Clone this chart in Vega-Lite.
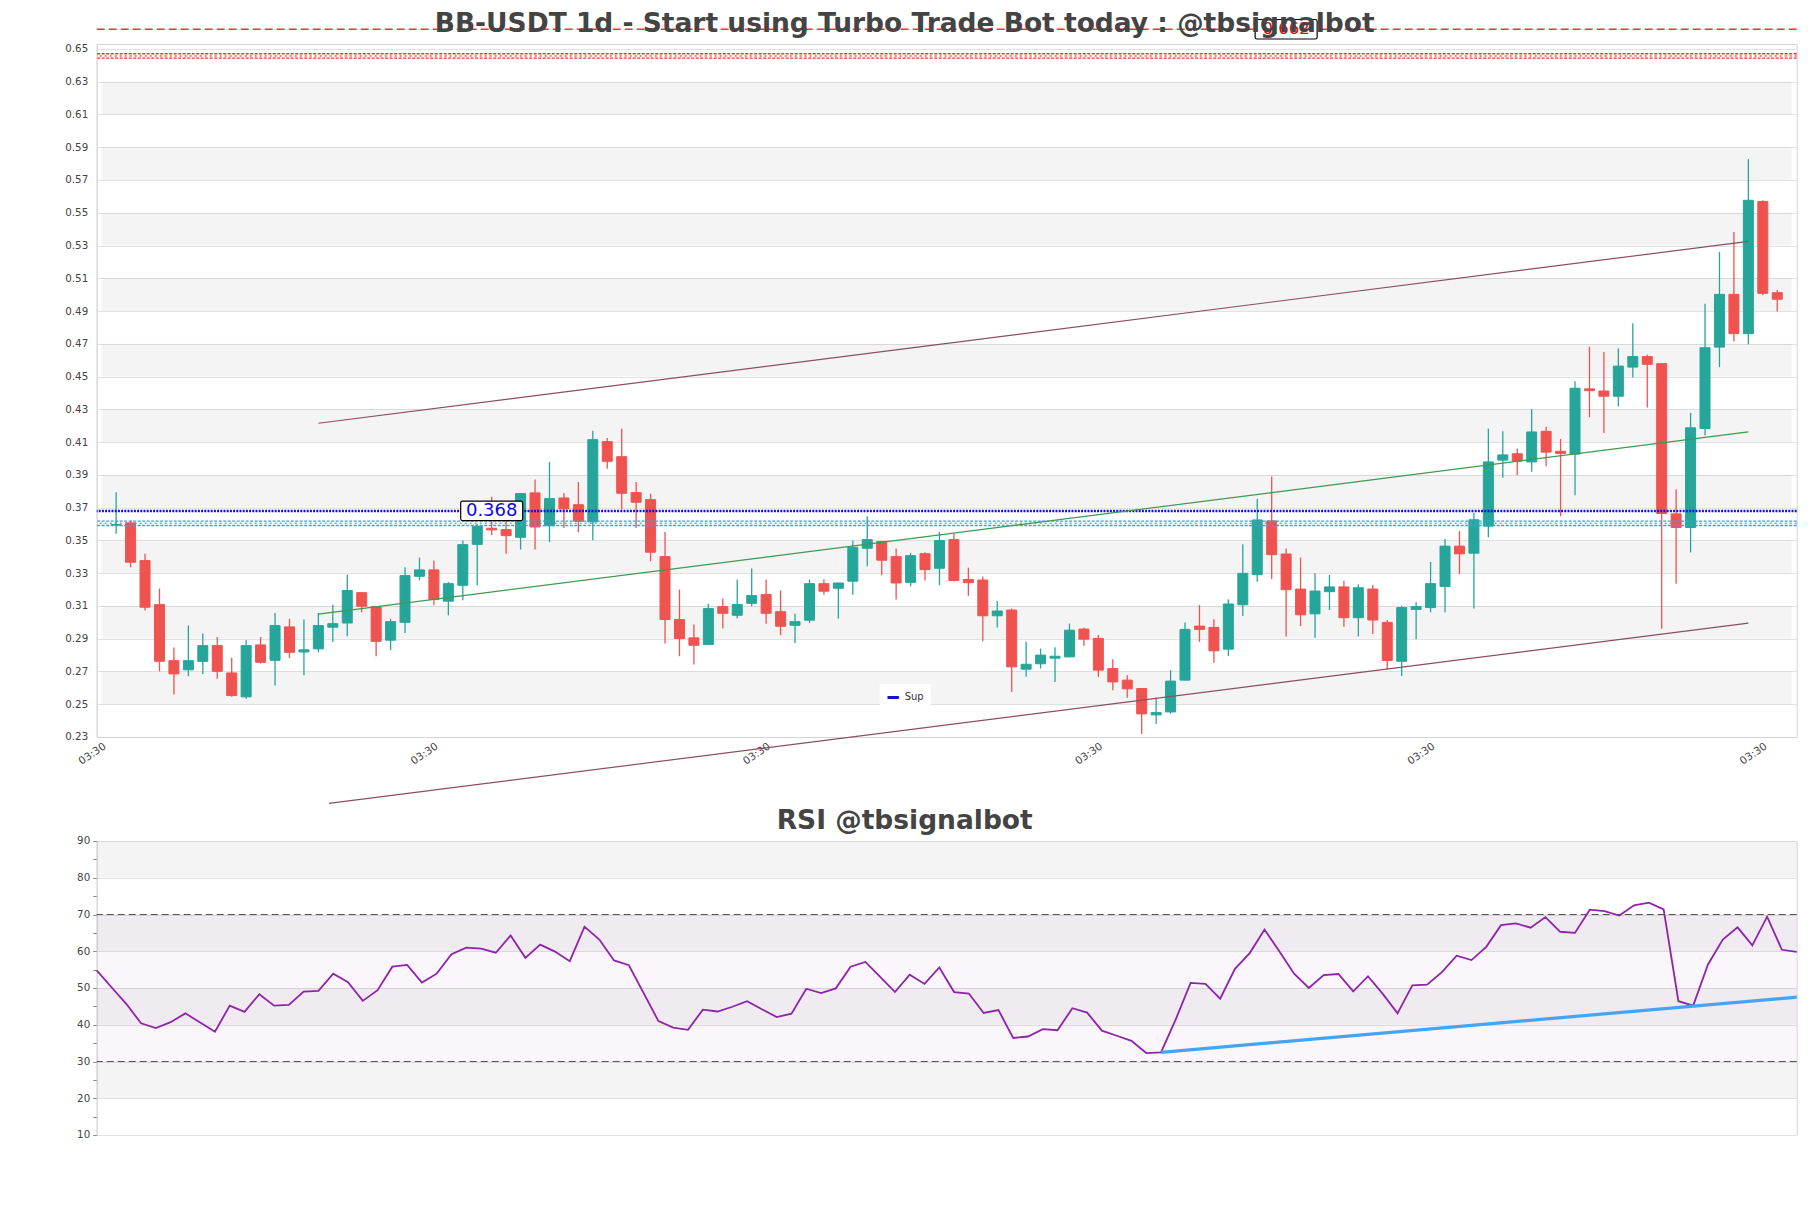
{
  "$schema": "https://vega.github.io/schema/vega-lite/v6.json",
  "background": "white",
  "padding": {"left": 63.7, "top": 10, "right": 14, "bottom": 20},
  "config": {
    "font": "DejaVu Sans",
    "view": {"stroke": "#d6d6d6", "strokeWidth": 1},
    "axis": {"labelFont": "DejaVu Sans", "labelColor": "#444444", "labelFontSize": 10.3, "domainColor": "#d6d6d6", "gridColor": "#e2e2e2", "ticks": false, "title": null, "labelPadding": 9, "labelOverlap": false, "tickCount": 200},
    "title": {"font": "DejaVu Sans", "fontWeight": "bold", "color": "#444444", "fontSize": 26.5, "anchor": "middle"},
    "legend": {"labelFont": "DejaVu Sans"}
  },
  "spacing": 0,
  "resolve": {"legend": {"color": "independent"}},
  "datasets": {
    "candles": [
      {"i":0,"o":0.3593,"h":0.3794,"l":0.3541,"c":0.3597},
      {"i":1,"o":0.3607,"h":0.3621,"l":0.3336,"c":0.3367},
      {"i":2,"o":0.3377,"h":0.3419,"l":0.3072,"c":0.3092},
      {"i":3,"o":0.3108,"h":0.3206,"l":0.2701,"c":0.2762},
      {"i":4,"o":0.2766,"h":0.2846,"l":0.2559,"c":0.2685},
      {"i":5,"o":0.2710,"h":0.2980,"l":0.2671,"c":0.2766},
      {"i":6,"o":0.2762,"h":0.2931,"l":0.2685,"c":0.2858},
      {"i":7,"o":0.2858,"h":0.2911,"l":0.2655,"c":0.2701},
      {"i":8,"o":0.2691,"h":0.2783,"l":0.2545,"c":0.2553},
      {"i":9,"o":0.2545,"h":0.2891,"l":0.2533,"c":0.2858},
      {"i":10,"o":0.2862,"h":0.2911,"l":0.2748,"c":0.2756},
      {"i":11,"o":0.2768,"h":0.3057,"l":0.2614,"c":0.2980},
      {"i":12,"o":0.2972,"h":0.3021,"l":0.2783,"c":0.2817},
      {"i":13,"o":0.2819,"h":0.3017,"l":0.2677,"c":0.2832},
      {"i":14,"o":0.2838,"h":0.3057,"l":0.2817,"c":0.2980},
      {"i":15,"o":0.2970,"h":0.3108,"l":0.2880,"c":0.2992},
      {"i":16,"o":0.2996,"h":0.3291,"l":0.2915,"c":0.3194},
      {"i":17,"o":0.3181,"h":0.3185,"l":0.3061,"c":0.3098},
      {"i":18,"o":0.3096,"h":0.3098,"l":0.2793,"c":0.2884},
      {"i":19,"o":0.2891,"h":0.3021,"l":0.2830,"c":0.3004},
      {"i":20,"o":0.3000,"h":0.3336,"l":0.2935,"c":0.3285},
      {"i":21,"o":0.3281,"h":0.3395,"l":0.3257,"c":0.3320},
      {"i":22,"o":0.3320,"h":0.3377,"l":0.3104,"c":0.3139},
      {"i":23,"o":0.3129,"h":0.3246,"l":0.3043,"c":0.3236},
      {"i":24,"o":0.3226,"h":0.3499,"l":0.3135,"c":0.3474},
      {"i":25,"o":0.3476,"h":0.3602,"l":0.3226,"c":0.3586},
      {"i":26,"o":0.3574,"h":0.3767,"l":0.3533,"c":0.3564},
      {"i":27,"o":0.3566,"h":0.3637,"l":0.3419,"c":0.3529},
      {"i":28,"o":0.3519,"h":0.3790,"l":0.3444,"c":0.3786},
      {"i":29,"o":0.3790,"h":0.3871,"l":0.3444,"c":0.3582},
      {"i":30,"o":0.3590,"h":0.3979,"l":0.3489,"c":0.3755},
      {"i":31,"o":0.3759,"h":0.3790,"l":0.3576,"c":0.3692},
      {"i":32,"o":0.3718,"h":0.3857,"l":0.3550,"c":0.3617},
      {"i":33,"o":0.3613,"h":0.4170,"l":0.3501,"c":0.4115},
      {"i":34,"o":0.4103,"h":0.4125,"l":0.3938,"c":0.3983},
      {"i":35,"o":0.4011,"h":0.4182,"l":0.3688,"c":0.3788},
      {"i":36,"o":0.3792,"h":0.3857,"l":0.3576,"c":0.3733},
      {"i":37,"o":0.3749,"h":0.3786,"l":0.3373,"c":0.3428},
      {"i":38,"o":0.3401,"h":0.3552,"l":0.2870,"c":0.3017},
      {"i":39,"o":0.3017,"h":0.3200,"l":0.2793,"c":0.2901},
      {"i":40,"o":0.2905,"h":0.2986,"l":0.2742,"c":0.2860},
      {"i":41,"o":0.2864,"h":0.3114,"l":0.2862,"c":0.3084},
      {"i":42,"o":0.3096,"h":0.3145,"l":0.2962,"c":0.3055},
      {"i":43,"o":0.3043,"h":0.3261,"l":0.3023,"c":0.3108},
      {"i":44,"o":0.3116,"h":0.3328,"l":0.3098,"c":0.3163},
      {"i":45,"o":0.3169,"h":0.3261,"l":0.2992,"c":0.3055},
      {"i":46,"o":0.3065,"h":0.3194,"l":0.2921,"c":0.2976},
      {"i":47,"o":0.2982,"h":0.3053,"l":0.2874,"c":0.3004},
      {"i":48,"o":0.3013,"h":0.3261,"l":0.2996,"c":0.3236},
      {"i":49,"o":0.3236,"h":0.3261,"l":0.3169,"c":0.3190},
      {"i":50,"o":0.3208,"h":0.3242,"l":0.3023,"c":0.3240},
      {"i":51,"o":0.3251,"h":0.3499,"l":0.3169,"c":0.3458},
      {"i":52,"o":0.3452,"h":0.3647,"l":0.3342,"c":0.3505},
      {"i":53,"o":0.3493,"h":0.3495,"l":0.3287,"c":0.3379},
      {"i":54,"o":0.3401,"h":0.3450,"l":0.3139,"c":0.3240},
      {"i":55,"o":0.3244,"h":0.3423,"l":0.3220,"c":0.3407},
      {"i":56,"o":0.3419,"h":0.3428,"l":0.3255,"c":0.3322},
      {"i":57,"o":0.3330,"h":0.3552,"l":0.3226,"c":0.3499},
      {"i":58,"o":0.3505,"h":0.3540,"l":0.3251,"c":0.3255},
      {"i":59,"o":0.3262,"h":0.3334,"l":0.3162,"c":0.3242},
      {"i":60,"o":0.3258,"h":0.3279,"l":0.2885,"c":0.3040},
      {"i":61,"o":0.3040,"h":0.3130,"l":0.2968,"c":0.3069},
      {"i":62,"o":0.3075,"h":0.3085,"l":0.2575,"c":0.2728},
      {"i":63,"o":0.2714,"h":0.2881,"l":0.2667,"c":0.2744},
      {"i":64,"o":0.2747,"h":0.2840,"l":0.2718,"c":0.2800},
      {"i":65,"o":0.2781,"h":0.2848,"l":0.2636,"c":0.2793},
      {"i":66,"o":0.2789,"h":0.2993,"l":0.2787,"c":0.2952},
      {"i":67,"o":0.2959,"h":0.2967,"l":0.2857,"c":0.2897},
      {"i":68,"o":0.2902,"h":0.2922,"l":0.2667,"c":0.2708},
      {"i":69,"o":0.2718,"h":0.2775,"l":0.2585,"c":0.2636},
      {"i":70,"o":0.2647,"h":0.2677,"l":0.2539,"c":0.2594},
      {"i":71,"o":0.2596,"h":0.2598,"l":0.2318,"c":0.2441},
      {"i":72,"o":0.2435,"h":0.2541,"l":0.2380,"c":0.2449},
      {"i":73,"o":0.2453,"h":0.2708,"l":0.2443,"c":0.2641},
      {"i":74,"o":0.2647,"h":0.2999,"l":0.2645,"c":0.2957},
      {"i":75,"o":0.2977,"h":0.3105,"l":0.2881,"c":0.2957},
      {"i":76,"o":0.2969,"h":0.3018,"l":0.2753,"c":0.2826},
      {"i":77,"o":0.2836,"h":0.3140,"l":0.2795,"c":0.3112},
      {"i":78,"o":0.3107,"h":0.3476,"l":0.3038,"c":0.3299},
      {"i":79,"o":0.3291,"h":0.3752,"l":0.3248,"c":0.3625},
      {"i":80,"o":0.3619,"h":0.3890,"l":0.3264,"c":0.3413},
      {"i":81,"o":0.3417,"h":0.3450,"l":0.2914,"c":0.3199},
      {"i":82,"o":0.3203,"h":0.3395,"l":0.2977,"c":0.3046},
      {"i":83,"o":0.3052,"h":0.3299,"l":0.2906,"c":0.3191},
      {"i":84,"o":0.3187,"h":0.3289,"l":0.3075,"c":0.3216},
      {"i":85,"o":0.3216,"h":0.3252,"l":0.2973,"c":0.3028},
      {"i":86,"o":0.3028,"h":0.3232,"l":0.2914,"c":0.3211},
      {"i":87,"o":0.3203,"h":0.3228,"l":0.2928,"c":0.3014},
      {"i":88,"o":0.3000,"h":0.3014,"l":0.2712,"c":0.2767},
      {"i":89,"o":0.2762,"h":0.3101,"l":0.2672,"c":0.3090},
      {"i":90,"o":0.3079,"h":0.3122,"l":0.2897,"c":0.3096},
      {"i":91,"o":0.3090,"h":0.3369,"l":0.3062,"c":0.3236},
      {"i":92,"o":0.3219,"h":0.3508,"l":0.3062,"c":0.3465},
      {"i":93,"o":0.3465,"h":0.3557,"l":0.3294,"c":0.3418},
      {"i":94,"o":0.3422,"h":0.3669,"l":0.3084,"c":0.3626},
      {"i":95,"o":0.3587,"h":0.4183,"l":0.3519,"c":0.3979},
      {"i":96,"o":0.3990,"h":0.4166,"l":0.3883,"c":0.4022},
      {"i":97,"o":0.4029,"h":0.4061,"l":0.3898,"c":0.3984},
      {"i":98,"o":0.3979,"h":0.4301,"l":0.3919,"c":0.4162},
      {"i":99,"o":0.4166,"h":0.4194,"l":0.3952,"c":0.4039},
      {"i":100,"o":0.4044,"h":0.4119,"l":0.3647,"c":0.4031},
      {"i":101,"o":0.4027,"h":0.4472,"l":0.3776,"c":0.4429},
      {"i":102,"o":0.4425,"h":0.4682,"l":0.4252,"c":0.4414},
      {"i":103,"o":0.4412,"h":0.4650,"l":0.4155,"c":0.4380},
      {"i":104,"o":0.4380,"h":0.4672,"l":0.4318,"c":0.4564},
      {"i":105,"o":0.4558,"h":0.4826,"l":0.4494,"c":0.4622},
      {"i":106,"o":0.4622,"h":0.4633,"l":0.4312,"c":0.4575},
      {"i":107,"o":0.4579,"h":0.4581,"l":0.2961,"c":0.3664},
      {"i":108,"o":0.3662,"h":0.3812,"l":0.3236,"c":0.3579},
      {"i":109,"o":0.3579,"h":0.4279,"l":0.3426,"c":0.4187},
      {"i":110,"o":0.4183,"h":0.4944,"l":0.4140,"c":0.4676},
      {"i":111,"o":0.4680,"h":0.5261,"l":0.4558,"c":0.5002},
      {"i":112,"o":0.5002,"h":0.5383,"l":0.4714,"c":0.4762},
      {"i":113,"o":0.4762,"h":0.5827,"l":0.4697,"c":0.5576},
      {"i":114,"o":0.5569,"h":0.5576,"l":0.4997,"c":0.5008},
      {"i":115,"o":0.5012,"h":0.5029,"l":0.4897,"c":0.4972}
    ],
    "bands": [
      {"b0":0.25,"b1":0.27},{"b0":0.29,"b1":0.31},{"b0":0.33,"b1":0.35},{"b0":0.37,"b1":0.39},{"b0":0.41,"b1":0.43},
      {"b0":0.45,"b1":0.47},{"b0":0.49,"b1":0.51},{"b0":0.53,"b1":0.55},{"b0":0.57,"b1":0.59},{"b0":0.61,"b1":0.63}
    ],
    "levels": [
      {"name":"Res","v":0.662},
      {"name":"Sup","v":0.368},
      {"name":"ResZone","v":0.6457},
      {"name":"SupZone","v":0.3604}
    ],
    "tags": [
      {"i":81,"v":0.662,"label":"0.662","kind":"res"},
      {"i":26,"v":0.368,"label":"0.368","kind":"sup"}
    ],
    "trend": [
      {"line":"upper","i":14,"v":0.4215},{"line":"upper","i":113,"v":0.5325},
      {"line":"lower","i":14.73,"v":0.1895},{"line":"lower","i":113,"v":0.2995},
      {"line":"mid","i":14,"v":0.305},{"line":"mid","i":113,"v":0.4163}
    ],
    "rsibands": [{"b0":20,"b1":30},{"b0":40,"b1":50},{"b0":60,"b1":70},{"b0":80,"b1":90}],
    "rsizone": [{"b0":30,"b1":70}],
    "rsilevels": [{"v":30},{"v":70}],
    "rsitrend": [{"j":72,"v":32.5},{"j":115,"v":47.5}],
    "rsi": [
      {"j":0,"v":54.8},{"j":1,"v":50.2},{"j":2,"v":45.7},{"j":3,"v":40.4},{"j":4,"v":39.1},
      {"j":5,"v":40.7},{"j":6,"v":43.1},{"j":7,"v":40.6},{"j":8,"v":38.1},{"j":9,"v":45.2},
      {"j":10,"v":43.5},{"j":11,"v":48.3},{"j":12,"v":45.2},{"j":13,"v":45.4},{"j":14,"v":49.0},
      {"j":15,"v":49.2},{"j":16,"v":53.9},{"j":17,"v":51.6},{"j":18,"v":46.5},{"j":19,"v":49.4},
      {"j":20,"v":55.8},{"j":21,"v":56.3},{"j":22,"v":51.5},{"j":23,"v":53.9},{"j":24,"v":59.2},
      {"j":25,"v":61.0},{"j":26,"v":60.7},{"j":27,"v":59.6},{"j":28,"v":64.3},{"j":29,"v":58.2},
      {"j":30,"v":61.8},{"j":31,"v":59.9},{"j":32,"v":57.3},{"j":33,"v":66.7},{"j":34,"v":63.2},
      {"j":35,"v":57.5},{"j":36,"v":56.2},{"j":37,"v":48.6},{"j":38,"v":41.0},{"j":39,"v":39.2},
      {"j":40,"v":38.6},{"j":41,"v":44.1},{"j":42,"v":43.6},{"j":43,"v":44.9},{"j":44,"v":46.4},
      {"j":45,"v":44.2},{"j":46,"v":42.1},{"j":47,"v":43.0},{"j":48,"v":49.8},{"j":49,"v":48.6},
      {"j":50,"v":49.9},{"j":51,"v":55.8},{"j":52,"v":57.1},{"j":53,"v":53.0},{"j":54,"v":48.9},
      {"j":55,"v":53.6},{"j":56,"v":51.1},{"j":57,"v":55.6},{"j":58,"v":48.9},{"j":59,"v":48.5},
      {"j":60,"v":43.2},{"j":61,"v":44.0},{"j":62,"v":36.4},{"j":63,"v":36.8},{"j":64,"v":38.8},
      {"j":65,"v":38.5},{"j":66,"v":44.5},{"j":67,"v":43.3},{"j":68,"v":38.4},{"j":69,"v":37.0},
      {"j":70,"v":35.6},{"j":71,"v":32.3},{"j":72,"v":32.5},{"j":73,"v":41.5},{"j":74,"v":51.4},
      {"j":75,"v":51.1},{"j":76,"v":47.1},{"j":77,"v":55.2},{"j":78,"v":59.5},{"j":79,"v":65.9},
      {"j":80,"v":60.0},{"j":81,"v":53.9},{"j":82,"v":50.0},{"j":83,"v":53.5},{"j":84,"v":53.8},
      {"j":85,"v":49.1},{"j":86,"v":53.2},{"j":87,"v":48.4},{"j":88,"v":43.1},{"j":89,"v":50.7},
      {"j":90,"v":50.9},{"j":91,"v":54.3},{"j":92,"v":58.8},{"j":93,"v":57.6},{"j":94,"v":61.2},
      {"j":95,"v":67.1},{"j":96,"v":67.6},{"j":97,"v":66.4},{"j":98,"v":69.3},{"j":99,"v":65.3},
      {"j":100,"v":65.0},{"j":101,"v":71.3},{"j":102,"v":70.9},{"j":103,"v":69.7},{"j":104,"v":72.5},
      {"j":105,"v":73.2},{"j":106,"v":71.4},{"j":107,"v":46.4},{"j":108,"v":45.2},{"j":109,"v":56.4},
      {"j":110,"v":63.2},{"j":111,"v":66.5},{"j":112,"v":61.6},{"j":113,"v":69.4},{"j":114,"v":60.4},
      {"j":115,"v":59.8}
    ]
  },
  "vconcat": [
    {
      "width": 1700,
      "height": 693,
      "title": {"text": "BB-USDT 1d - Start using Turbo Trade Bot today : @tbsignalbot", "dx": -42, "offset": -20.7},
      "layer": [
        {
          "data": {"name": "bands"},
          "mark": {"type": "rect", "color": "#000000", "opacity": 0.045},
          "encoding": {
            "x": {"datum": -1, "type": "quantitative", "scale": {"domain": [-1, 116], "nice": false, "zero": false},
                  "axis": {"values": [-1, 22, 45, 68, 91, 114], "labelExpr": "'03:30'", "labelAngle": -34, "labelFontSize": 10.5, "labelPadding": 4, "grid": false, "labelFlush": false, "labelOverlap": false, "labelBound": false, "tickCount": 200}},
            "x2": {"datum": 116},
            "y": {"field": "b0", "type": "quantitative", "scale": {"domain": [0.23, 0.653], "nice": false, "zero": false},
                  "axis": {"values": [0.23,0.25,0.27,0.29,0.31,0.33,0.35,0.37,0.39,0.41,0.43,0.45,0.47,0.49,0.51,0.53,0.55,0.57,0.59,0.61,0.63,0.65], "format": ".2f", "grid": true, "labelFlush": false, "labelOverlap": false, "tickCount": 200}},
            "y2": {"field": "b1"}
          }
        },
        {
          "data": {"name": "candles"},
          "mark": {"type": "rule", "strokeWidth": 1.3},
          "encoding": {
            "x": {"field": "i", "type": "quantitative", "scale": {"domain": [-1, 116], "nice": false, "zero": false}},
            "y": {"field": "l", "type": "quantitative", "scale": {"domain": [0.23, 0.653], "nice": false, "zero": false}},
            "y2": {"field": "h"},
            "color": {"condition": {"test": "datum.c >= datum.o", "value": "#26a69a"}, "value": "#ef5350"}
          }
        },
        {
          "data": {"name": "candles"},
          "mark": {"type": "bar", "width": 10, "strokeWidth": 1},
          "encoding": {
            "x": {"field": "i", "type": "quantitative", "scale": {"domain": [-1, 116], "nice": false, "zero": false}},
            "y": {"field": "o", "type": "quantitative", "scale": {"domain": [0.23, 0.653], "nice": false, "zero": false}},
            "y2": {"field": "c"},
            "color": {"condition": {"test": "datum.c >= datum.o", "value": "#26a69a"}, "value": "#ef5350"},
            "stroke": {"condition": {"test": "datum.c >= datum.o", "value": "#26a69a"}, "value": "#ef5350"}
          }
        },
        {
          "data": {"name": "levels"},
          "transform": [{"filter": "datum.name === 'Res'"}],
          "mark": {"type": "rule", "color": "#e53935", "strokeWidth": 1.4, "strokeDash": [8, 4], "clip": false},
          "encoding": {"y": {"field": "v", "type": "quantitative", "scale": {"domain": [0.23, 0.653], "nice": false, "zero": false}}}
        },
        {
          "data": {"name": "levels"},
          "transform": [{"filter": "datum.name === 'ResZone'"}],
          "mark": {"type": "rule", "color": "#e53935", "strokeWidth": 1.4, "strokeDash": [3, 1.5], "yOffset": -2.2},
          "encoding": {"y": {"field": "v", "type": "quantitative", "scale": {"domain": [0.23, 0.653], "nice": false, "zero": false}}}
        },
        {
          "data": {"name": "levels"},
          "transform": [{"filter": "datum.name === 'ResZone'"}],
          "mark": {"type": "rule", "color": "#e53935", "strokeWidth": 1.4, "strokeDash": [3, 1.5], "yOffset": 2.2},
          "encoding": {"y": {"field": "v", "type": "quantitative", "scale": {"domain": [0.23, 0.653], "nice": false, "zero": false}}}
        },
        {
          "data": {"name": "levels"},
          "transform": [{"filter": "datum.name === 'ResZone'"}],
          "mark": {"type": "rule", "color": "#e53935", "strokeWidth": 1.5, "strokeDash": [2, 3], "opacity": 0.8},
          "encoding": {"y": {"field": "v", "type": "quantitative", "scale": {"domain": [0.23, 0.653], "nice": false, "zero": false}}}
        },
        {
          "data": {"name": "levels"},
          "transform": [{"filter": "datum.name === 'SupZone'"}],
          "mark": {"type": "rule", "color": "#29a6e8", "strokeWidth": 1.4, "strokeDash": [3, 1.5], "yOffset": -2.2},
          "encoding": {"y": {"field": "v", "type": "quantitative", "scale": {"domain": [0.23, 0.653], "nice": false, "zero": false}}}
        },
        {
          "data": {"name": "levels"},
          "transform": [{"filter": "datum.name === 'SupZone'"}],
          "mark": {"type": "rule", "color": "#29a6e8", "strokeWidth": 1.4, "strokeDash": [3, 1.5], "yOffset": 2.2},
          "encoding": {"y": {"field": "v", "type": "quantitative", "scale": {"domain": [0.23, 0.653], "nice": false, "zero": false}}}
        },
        {
          "data": {"name": "levels"},
          "transform": [{"filter": "datum.name === 'SupZone'"}],
          "mark": {"type": "rule", "color": "#29a6e8", "strokeWidth": 1.5, "strokeDash": [2, 3], "opacity": 0.8},
          "encoding": {"y": {"field": "v", "type": "quantitative", "scale": {"domain": [0.23, 0.653], "nice": false, "zero": false}}}
        },
        {
          "data": {"name": "levels"},
          "transform": [{"filter": "datum.name === 'Sup'"}],
          "mark": {"type": "rule", "strokeWidth": 2.5, "strokeDash": [2, 1.2]},
          "encoding": {
            "y": {"field": "v", "type": "quantitative", "scale": {"domain": [0.23, 0.653], "nice": false, "zero": false}},
            "color": {"field": "name", "type": "nominal", "scale": {"range": ["#1414cc"]},
                      "legend": {"title": null, "orient": "none", "legendX": 783, "legendY": 640, "symbolType": "stroke", "symbolStrokeWidth": 3, "symbolSize": 130, "symbolDash": [], "labelFontSize": 10, "labelColor": "#333333", "fillColor": "white", "padding": 6}}
          }
        },
        {
          "data": {"name": "trend"},
          "mark": {"type": "line", "strokeWidth": 1.2, "clip": false},
          "encoding": {
            "x": {"field": "i", "type": "quantitative", "scale": {"domain": [-1, 116], "nice": false, "zero": false}},
            "y": {"field": "v", "type": "quantitative", "scale": {"domain": [0.23, 0.653], "nice": false, "zero": false}},
            "detail": {"field": "line"},
            "color": {"condition": {"test": "datum.line === 'mid'", "value": "#3d9a50"}, "value": "#8a4f5f"}
          }
        },
        {
          "data": {"name": "tags"},
          "mark": {"type": "point", "filled": true, "fill": "white", "stroke": "black", "strokeWidth": 1.2, "opacity": 1, "size": 3844, "clip": false, "zindex": 2,
                   "shape": "M-0.94,-0.315 L0.94,-0.315 Q1,-0.315 1,-0.255 L1,0.255 Q1,0.315 0.94,0.315 L-0.94,0.315 Q-1,0.315 -1,0.255 L-1,-0.255 Q-1,-0.315 -0.94,-0.315 Z"},
          "encoding": {
            "x": {"field": "i", "type": "quantitative", "scale": {"domain": [-1, 116], "nice": false, "zero": false}},
            "y": {"field": "v", "type": "quantitative", "scale": {"domain": [0.23, 0.653], "nice": false, "zero": false}}
          }
        },
        {
          "data": {"name": "tags"},
          "mark": {"type": "text", "font": "DejaVu Sans", "baseline": "middle", "align": "center", "clip": false, "zindex": 3},
          "encoding": {
            "x": {"field": "i", "type": "quantitative", "scale": {"domain": [-1, 116], "nice": false, "zero": false}},
            "y": {"field": "v", "type": "quantitative", "scale": {"domain": [0.23, 0.653], "nice": false, "zero": false}},
            "text": {"field": "label"},
            "size": {"condition": {"test": "datum.kind === 'sup'", "value": 18}, "value": 16.5},
            "color": {"condition": {"test": "datum.kind === 'sup'", "value": "#0a0ae6"}, "value": "#e8000b"}
          }
        }
      ]
    },
    {
      "width": 1700,
      "height": 294,
      "title": {"text": "RSI @tbsignalbot", "dx": -42, "offset": 1.5},
      "layer": [
        {
          "data": {"name": "rsibands"},
          "mark": {"type": "rect", "color": "#000000", "opacity": 0.045},
          "encoding": {
            "x": {"datum": 0, "type": "quantitative", "scale": {"domain": [0, 115], "nice": false, "zero": false}, "axis": null},
            "x2": {"datum": 115},
            "y": {"field": "b0", "type": "quantitative", "scale": {"domain": [10, 90], "nice": false, "zero": false},
                  "axis": {"values": [10,15,20,25,30,35,40,45,50,55,60,65,70,75,80,85,90], "format": "d", "labelExpr": "datum.value % 10 === 0 ? datum.label : ''", "ticks": true, "tickSize": 4, "tickColor": "#888888", "labelPadding": 3, "grid": true, "gridOpacity": {"condition": {"test": "datum.value % 10 === 0", "value": 1}, "value": 0}, "labelFlush": false, "labelOverlap": false, "tickCount": 200}},
            "y2": {"field": "b1"}
          }
        },
        {
          "data": {"name": "rsizone"},
          "mark": {"type": "rect", "color": "#a24fc2", "opacity": 0.05},
          "encoding": {
            "x": {"datum": 0, "type": "quantitative", "scale": {"domain": [0, 115], "nice": false, "zero": false}},
            "x2": {"datum": 115},
            "y": {"field": "b0", "type": "quantitative", "scale": {"domain": [10, 90], "nice": false, "zero": false}},
            "y2": {"field": "b1"}
          }
        },
        {
          "data": {"name": "rsilevels"},
          "mark": {"type": "rule", "color": "#555555", "strokeWidth": 1.2, "strokeDash": [7, 4]},
          "encoding": {"y": {"field": "v", "type": "quantitative", "scale": {"domain": [10, 90], "nice": false, "zero": false}}}
        },
        {
          "data": {"name": "rsi"},
          "mark": {"type": "line", "color": "#8e24aa", "strokeWidth": 1.8},
          "encoding": {
            "x": {"field": "j", "type": "quantitative", "scale": {"domain": [0, 115], "nice": false, "zero": false}},
            "y": {"field": "v", "type": "quantitative", "scale": {"domain": [10, 90], "nice": false, "zero": false}}
          }
        },
        {
          "data": {"name": "rsitrend"},
          "mark": {"type": "line", "color": "#42a5f5", "strokeWidth": 3.2},
          "encoding": {
            "x": {"field": "j", "type": "quantitative", "scale": {"domain": [0, 115], "nice": false, "zero": false}},
            "y": {"field": "v", "type": "quantitative", "scale": {"domain": [10, 90], "nice": false, "zero": false}}
          }
        }
      ]
    }
  ]
}
